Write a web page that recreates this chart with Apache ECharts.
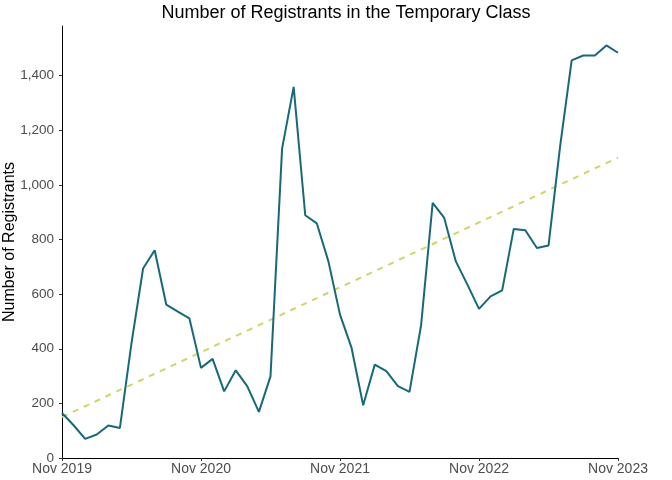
<!DOCTYPE html>
<html><head><meta charset="utf-8">
<script src="https://cdn.jsdelivr.net/npm/echarts@6/dist/echarts.min.js"></script>
<style>html,body{margin:0;padding:0;background:#fff}#c{width:672px;height:480px}</style>
</head><body><div id="c"></div>
<script>
// Monthly index 0 = Nov 2019 ... 48 = Nov 2023
const registrants = [165,120,70,86,119,110,421,694,761,562,536,511,330,363,244,321,262,169,299,1133,1359,889,859,720,525,403,193,342,318,263,242,486,934,879,720,635,546,592,614,839,834,769,778,1140,1456,1474,1474,1511,1484];
const trendMonths = [0,48];
const trendValues = [150,1100];
const xTickLabels = ["Nov 2019","Nov 2020","Nov 2021","Nov 2022","Nov 2023"];
const yTicks = [0,200,400,600,800,1000,1200,1400];

const chart = echarts.init(document.getElementById('c'));
chart.setOption({
  animation:false,
  backgroundColor:'#fff',
  title:{text:'Number of Registrants in the Temporary Class',left:341,top:-1,textAlign:'center',
    textStyle:{fontFamily:'Liberation Sans',fontSize:18,fontWeight:'normal',color:'#000'}},
  grid:{left:62,right:54,top:26,bottom:22,containLabel:false,outerBoundsMode:'none'},
  xAxis:{type:'value',min:0,max:48,interval:12,
    axisLine:{show:true,lineStyle:{color:'#000',width:1}},
    axisTick:{show:true,length:3,lineStyle:{color:'#333'}},
    splitLine:{show:false},
    axisLabel:{margin:4,color:'#4d4d4d',fontFamily:'Liberation Sans',fontSize:14,
      formatter:v=>xTickLabels[Math.round(v/12)]||''}},
  yAxis:{type:'value',min:0,max:1582,
    name:'Number of Registrants',nameLocation:'middle',nameGap:44,nameMoveOverlap:false,
    nameTextStyle:{fontFamily:'Liberation Sans',fontSize:16,color:'#000'},
    axisLine:{show:true,lineStyle:{color:'#000',width:1}},
    axisTick:{show:true,length:3,customValues:yTicks,lineStyle:{color:'#333'}},
    splitLine:{show:false},
    axisLabel:{margin:8,color:'#4d4d4d',fontFamily:'Liberation Sans',fontSize:13.5,customValues:yTicks,
      formatter:v=>v.toLocaleString('en-US')}},
  series:[
    {type:'line',data:trendMonths.map((m,i)=>[m,trendValues[i]]),symbol:'none',
     lineStyle:{color:'#c8d96a',width:2,type:[6,6]},z:1},
    {type:'line',data:registrants.map((v,i)=>[i,v]),symbol:'none',
     lineStyle:{color:'#17697a',width:2},z:2}
  ]
});
</script></body></html>
